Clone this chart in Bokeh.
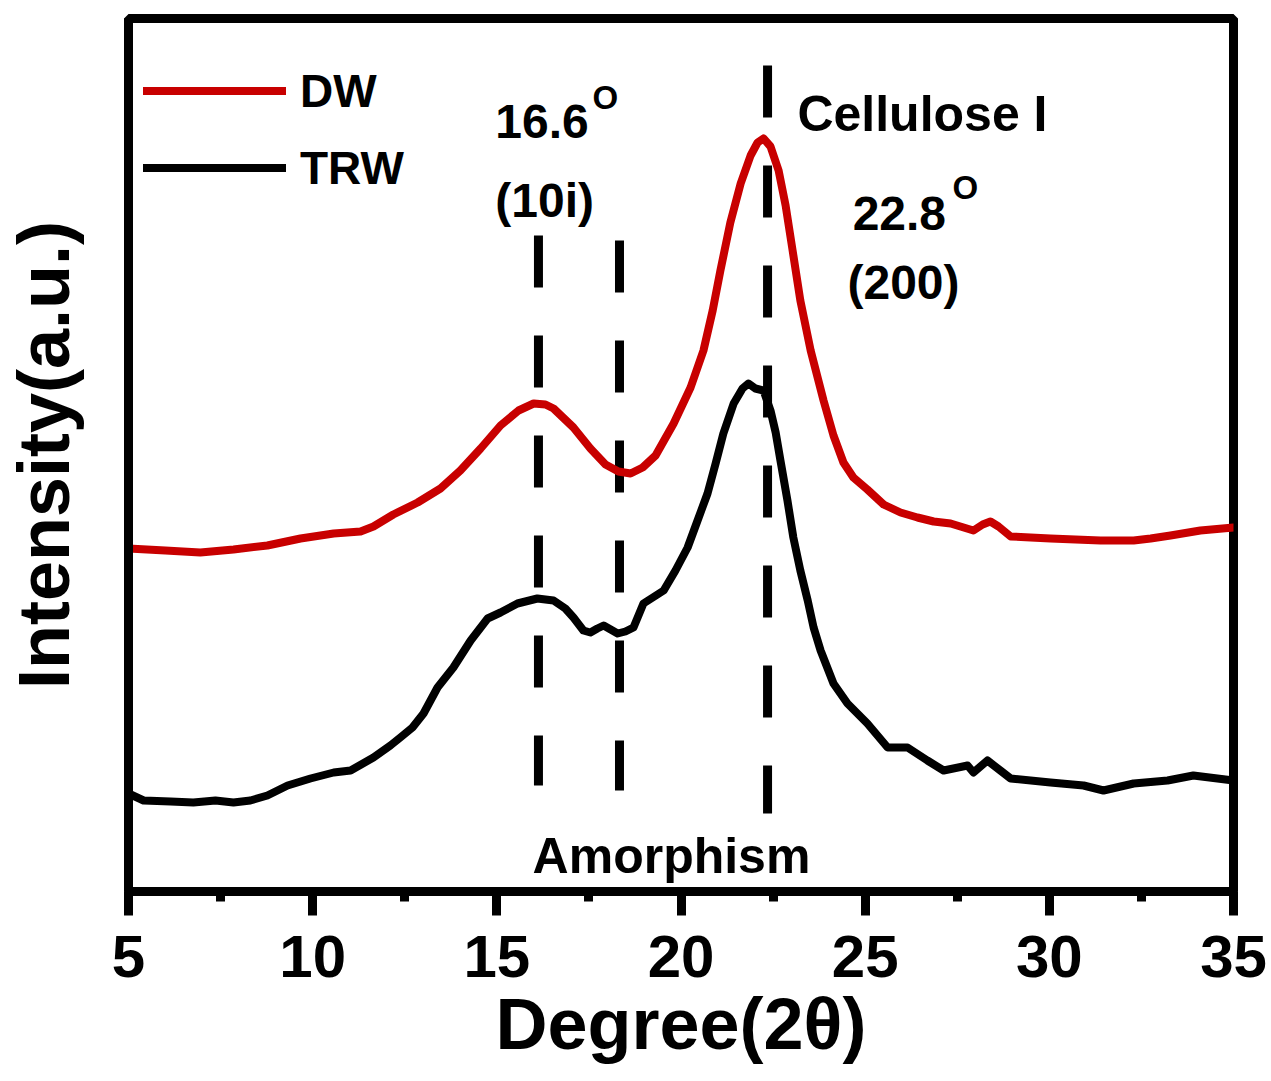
from bokeh.plotting import figure
from bokeh.models import Range1d, FixedTicker, Label, Legend, LegendItem
from bokeh.embed import file_html
from bokeh.resources import INLINE

# ---------------- data ----------------
deg_dw = [5.0, 6.00, 6.95, 7.85, 8.77, 9.67, 10.57, 11.30, 11.65, 12.19, 12.85, 13.47, 14.01,
          14.56, 15.10, 15.59, 16.00, 16.32, 16.54, 17.08, 17.54, 17.95, 18.30, 18.63, 18.96,
          19.31, 19.80, 20.26, 20.61, 20.86, 21.07, 21.34, 21.62, 21.89, 22.08, 22.24, 22.43,
          22.65, 22.84, 23.03, 23.24, 23.52, 23.87, 24.14, 24.41, 24.68, 25.06, 25.50, 25.96,
          26.42, 26.86, 27.32, 27.94, 28.19, 28.40, 28.62, 28.95, 29.49, 30.03, 30.71, 31.39,
          32.29, 32.75, 33.29, 34.10, 35.0]
int_dw = [343, 341, 339, 342, 346, 353, 358, 360, 365, 377, 389, 403, 421,
          443, 466, 481, 488, 487, 483, 464, 443, 427, 420, 418, 424,
          436, 468, 504, 541, 581, 621, 669, 708, 736, 749, 753, 745,
          721, 686, 641, 591, 541, 491, 456, 429, 414, 402, 387, 379,
          374, 370, 368, 361, 367, 370, 365, 355, 354, 353, 352, 351,
          351, 353, 356, 361, 364]

deg_trw = [5.0, 5.41, 6.14, 6.76, 7.36, 7.85, 8.31, 8.77, 9.32, 9.94, 10.57, 11.03, 11.65,
           12.11, 12.38, 12.71, 13.01, 13.39, 13.82, 14.29, 14.75, 15.10, 15.56, 16.10, 16.54,
           16.86, 17.08, 17.35, 17.54, 17.73, 17.90, 18.09, 18.28, 18.49, 18.71, 18.98, 19.53,
           19.85, 20.18, 20.45, 20.72, 20.94, 21.15, 21.43, 21.67, 21.83, 22.02, 22.24, 22.43,
           22.57, 22.70, 22.89, 23.05, 23.24, 23.44, 23.60, 23.79, 24.14, 24.52, 25.06, 25.61,
           26.15, 26.69, 27.13, 27.78, 27.94, 28.32, 28.67, 28.95, 30.03, 30.93, 31.47, 32.29,
           33.21, 33.91, 35.0]
int_trw = [98, 91, 90, 89, 91, 89, 91, 96, 106, 113, 119, 121, 134,
           146, 154, 164, 178, 204, 224, 251, 273, 279, 288, 293, 291,
           283, 274, 261, 259, 263, 266, 262, 258, 260, 264, 288, 301,
           321, 344, 371, 398, 428, 458, 488, 503, 508, 503, 501, 481,
           459, 431, 391, 354, 321, 291, 264, 241, 208, 188, 168, 144,
           144, 131, 121, 126, 119, 131, 121, 113, 109, 106, 101, 108,
           111, 116, 111]

ref_deg = [16.13, 18.33, 22.35]      # dashed reference lines
ref_top = [656, 651, 826]
ref_bottom = [106, 101, 78]

major_ticks = [5, 10, 15, 20, 25, 30, 35]
minor_ticks = [7.5, 12.5, 17.5, 22.5, 27.5, 32.5]

FONT = "Liberation Sans"

p = figure(width=1271, height=1081, x_range=Range1d(5, 35), y_range=Range1d(0, 873),
           output_backend="svg", toolbar_location=None,
           min_border_left=128, min_border_right=38, min_border_top=18, min_border_bottom=190)
p.grid.visible = False
p.background_fill_color = "white"
p.border_fill_color = "white"
p.outline_line_color = "black"
p.outline_line_width = 9

# x axis
xa = p.xaxis[0]
xa.ticker = FixedTicker(ticks=major_ticks, minor_ticks=minor_ticks)
xa.axis_line_width = 9
xa.axis_line_color = "black"
xa.major_tick_line_color = "black"
xa.minor_tick_line_color = "black"
xa.major_tick_line_width = 9
xa.minor_tick_line_width = 9
xa.major_tick_in = 0
xa.major_tick_out = 24
xa.minor_tick_in = 0
xa.minor_tick_out = 10
xa.major_label_text_font = FONT
xa.major_label_text_font_style = "bold"
xa.major_label_text_font_size = "60px"
xa.major_label_text_color = "black"
xa.major_label_standoff = 20
xa.axis_label = "Degree(2θ)"
xa.axis_label_text_font = FONT
xa.axis_label_text_font_style = "bold"
xa.axis_label_text_font_size = "72px"
xa.axis_label_text_color = "black"
xa.axis_label_standoff = 4

# y axis
ya = p.yaxis[0]
ya.ticker = FixedTicker(ticks=[])
ya.axis_line_width = 9
ya.axis_line_color = "black"
ya.major_tick_in = 0
ya.major_tick_out = 0
ya.minor_tick_in = 0
ya.minor_tick_out = 0
ya.major_label_text_font_size = "0px"
ya.axis_label = "Intensity(a.u.)"
ya.axis_label_text_font = FONT
ya.axis_label_text_font_style = "bold"
ya.axis_label_text_font_size = "72px"
ya.axis_label_text_color = "black"
ya.axis_label_standoff = 45

# dashed reference lines
p.segment(x0=ref_deg, y0=ref_top, x1=ref_deg, y1=ref_bottom,
          line_color="black", line_width=9, line_dash="52 48")

# curves
r_dw = p.line(deg_dw, int_dw, line_color="#C80000", line_width=8,
              line_cap="round", line_join="round")
r_trw = p.line(deg_trw, int_trw, line_color="black", line_width=8,
               line_cap="round", line_join="round")

legend = Legend(items=[LegendItem(label="DW", renderers=[r_dw]),
                       LegendItem(label="TRW", renderers=[r_trw])],
                location=(15, 685), glyph_width=143, glyph_height=77, label_height=77,
                label_standoff=14, spacing=0, padding=0, margin=0,
                border_line_color=None, background_fill_alpha=0,
                label_text_font=FONT, label_text_font_style="bold",
                label_text_font_size="46px", label_text_color="black")
p.add_layout(legend)


def lab(x, y, text, size):
    p.add_layout(Label(x=x, y=y, text=text, text_font=FONT, text_font_style="bold",
                       text_font_size=size, text_color="black", text_baseline="alphabetic"))


lab(14.96, 770, "16.6", "48px")
lab(17.60, 794, "O", "33px")
lab(14.96, 691, "(10i)", "48px")
lab(23.16, 778, "Cellulose I", "50px")
lab(24.66, 678, "22.8", "48px")
lab(27.37, 704, "O", "33px")
lab(24.52, 609, "(200)", "48px")
lab(15.97, 36, "Amorphism", "50px")

open("out.html", "w").write(file_html(p, INLINE))
